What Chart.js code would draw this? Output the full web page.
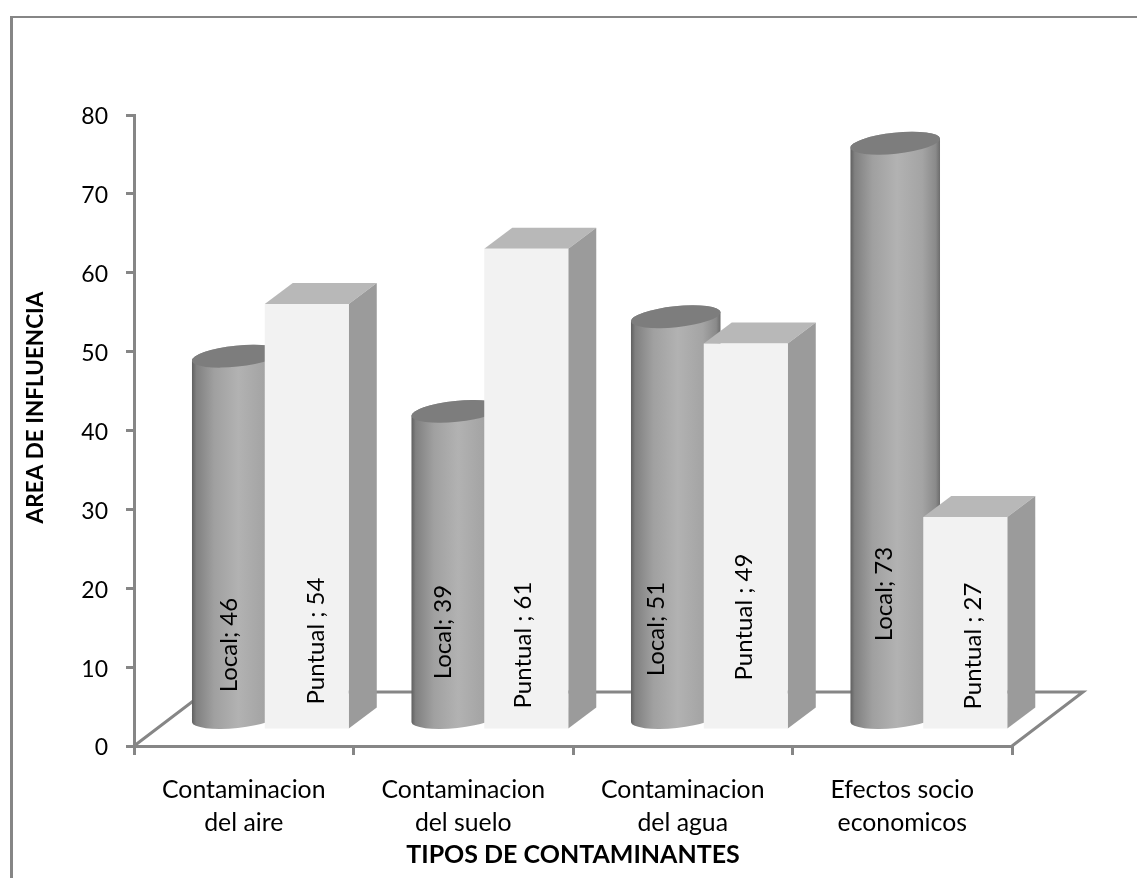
<!DOCTYPE html>
<html lang="es">
<head>
<meta charset="utf-8">
<title>Tipos de contaminantes</title>
<script src="https://cdn.jsdelivr.net/npm/chart.js@4/dist/chart.umd.js"></script>
<style>
    html, body { margin: 0; padding: 0; background: #fff; }
    canvas { display: block; }
</style>
</head>
<body>
<canvas id="chart" width="1137" height="878"></canvas>
<script>
// === Data ===
const categories = [
    ['Contaminacion', 'del aire'],
    ['Contaminacion', 'del suelo'],
    ['Contaminacion', 'del agua'],
    ['Efectos socio', 'economicos'],
];
const localValues = [46, 39, 51, 73];
const puntualValues = [54, 61, 49, 27];
const yTicks = [0, 10, 20, 30, 40, 50, 60, 70, 80];

// Hand-placed data labels in the original, so each one has its own nudge [x, y]
const localNudge = [[-7, -1], [-13, -14], [-19, -17], [-11, -52]];
const puntualNudge = [[10, -5], [-3, -1], [-1, -29], [8, 0]];

// === Look ===
const FONT = 'Lato, "Open Sans", sans-serif';
const AXIS_GRAY = '#868686';
const FLOOR_DX = 71, FLOOR_DY = 54;   // depth of the floor
const BAR_DX = 28, BAR_DY = 21;       // depth of a box
const FRONT_DX = 28, FRONT_DY = 16;   // bars stand in from the front edge of the floor
const CYL_LIFT = 27, CYL_RY = 10.5, CYL_GROW = 3, CYL_TILT = -6 * Math.PI / 180;

function poly(ctx, pts, fill) {
    ctx.beginPath();
    pts.forEach((p, i) => i ? ctx.lineTo(p[0], p[1]) : ctx.moveTo(p[0], p[1]));
    ctx.closePath();
    ctx.fillStyle = fill;
    ctx.fill();
}

function drawCylinder(ctx, bar) {
    const cx = bar.x + FRONT_DX;
    const rx = bar.width / 2 + CYL_GROW;
    const top = bar.y - CYL_LIFT;
    const bottom = bar.base - CYL_LIFT;

    const grad = ctx.createLinearGradient(cx - rx, 0, cx + rx, 0);
    grad.addColorStop(0, '#5e5e5e');
    grad.addColorStop(0.05, '#808080');
    grad.addColorStop(0.25, '#a0a0a0');
    grad.addColorStop(0.52, '#b2b2b2');
    grad.addColorStop(0.8, '#a4a4a4');
    grad.addColorStop(0.95, '#8a8a8a');
    grad.addColorStop(1, '#6a6a6a');

    ctx.beginPath();
    ctx.ellipse(cx, bottom, rx, CYL_RY, CYL_TILT, 0, Math.PI);
    ctx.ellipse(cx, top, rx, CYL_RY, CYL_TILT, Math.PI, 2 * Math.PI);
    ctx.closePath();
    ctx.fillStyle = grad;
    ctx.fill();

    ctx.beginPath();
    ctx.ellipse(cx, top, rx, CYL_RY, CYL_TILT, 0, 2 * Math.PI);
    ctx.fillStyle = '#7d7d7d';
    ctx.fill();
}

function drawBox(ctx, bar) {
    const l = bar.x + FRONT_DX - bar.width / 2;
    const r = l + bar.width;
    const t = bar.y - FRONT_DY;
    const b = bar.base - FRONT_DY;
    poly(ctx, [[l, t], [l + BAR_DX, t - BAR_DY], [r + BAR_DX, t - BAR_DY], [r, t]], '#b8b8b8');
    poly(ctx, [[r, t], [r + BAR_DX, t - BAR_DY], [r + BAR_DX, b - BAR_DY], [r, b]], '#9b9b9b');
    poly(ctx, [[l, t], [r, t], [r, b], [l, b]], '#f2f2f2');
}

function drawRotatedText(ctx, text, x, y, font) {
    ctx.save();
    ctx.translate(x, y);
    ctx.rotate(-Math.PI / 2);
    ctx.font = font;
    ctx.fillStyle = '#000';
    ctx.textAlign = 'center';
    ctx.textBaseline = 'middle';
    ctx.fillText(text, 0, 0);
    ctx.restore();
}

const depthPlugin = {
    id: 'depth',
    beforeDraw(chart) {
        // frame: only the top and left edges are in the picture
        const { ctx, width, height } = chart;
        ctx.save();
        ctx.fillStyle = AXIS_GRAY;
        ctx.fillRect(10, 16, width - 10, 2);
        ctx.fillRect(10, 16, 3, height - 16);
        ctx.restore();
    },
    beforeDatasetsDraw(chart) {
        // floor outline, front edge comes from the x axis
        const { ctx, chartArea: a } = chart;
        ctx.save();
        ctx.strokeStyle = AXIS_GRAY;
        ctx.lineWidth = 3;
        ctx.lineJoin = 'miter';
        ctx.beginPath();
        ctx.moveTo(a.left, a.bottom);
        ctx.lineTo(a.left + FLOOR_DX, a.bottom - FLOOR_DY);
        ctx.lineTo(a.right + FLOOR_DX, a.bottom - FLOOR_DY);
        ctx.lineTo(a.right, a.bottom);
        ctx.stroke();
        ctx.restore();
    },
    afterDatasetsDraw(chart) {
        const { ctx, chartArea: a } = chart;
        const cyl = chart.getDatasetMeta(0).data;
        const box = chart.getDatasetMeta(1).data;
        ctx.save();
        categories.forEach((_, i) => {
            const c = cyl[i].getProps(['x', 'y', 'base', 'width'], true);
            const b = box[i].getProps(['x', 'y', 'base', 'width'], true);
            drawCylinder(ctx, c);
            drawBox(ctx, b);
            const labelY = a.bottom - 100;
            drawRotatedText(ctx, `Local; ${localValues[i]}`,
                c.x + FRONT_DX + localNudge[i][0], labelY + localNudge[i][1], '24px ' + FONT);
            drawRotatedText(ctx, `Puntual ; ${puntualValues[i]}`,
                b.x + FRONT_DX + puntualNudge[i][0], labelY + puntualNudge[i][1], '24px ' + FONT);
        });
        // y title sits above the middle of the axis, scale titles can't do that
        drawRotatedText(ctx, 'AREA DE INFLUENCIA', 36, (a.top + a.bottom) / 2 - 23, 'bold 22.5px ' + FONT);
        ctx.restore();
    },
};

new Chart(document.getElementById('chart'), {
    type: 'bar',
    plugins: [depthPlugin],
    data: {
        labels: categories,
        datasets: [
            { label: 'Local', data: localValues, backgroundColor: 'transparent' },
            { label: 'Puntual', data: puntualValues, backgroundColor: 'transparent' },
        ],
    },
    options: {
        responsive: false,
        animation: false,
        categoryPercentage: 0.638,
        barPercentage: 1.2,
        layout: { padding: { left: 0, right: 125, top: 115, bottom: 0 } },
        plugins: { legend: { display: false }, title: { display: false }, tooltip: { enabled: false } },
        scales: {
            x: {
                afterFit: (scale) => { scale.height = 132; },
                border: { color: AXIS_GRAY, width: 3 },
                grid: { drawOnChartArea: false, color: AXIS_GRAY, lineWidth: 3, tickLength: 9 },
                ticks: {
                    color: '#000', padding: 19, maxRotation: 0, autoSkip: false,
                    font: { family: FONT, size: 24.8, lineHeight: 1.33 },
                },
                title: {
                    display: true, text: 'TIPOS DE CONTAMINANTES', color: '#000',
                    font: { family: FONT, size: 25, weight: 'bold' },
                    padding: { top: 0, bottom: 8 },
                },
            },
            y: {
                min: 0, max: 80,
                afterBuildTicks: (scale) => { scale.ticks = yTicks.map(value => ({ value })); },
                afterFit: (scale) => { scale.width = 134; },
                border: { color: AXIS_GRAY, width: 3 },
                grid: { drawOnChartArea: false, color: AXIS_GRAY, lineWidth: 3, tickLength: 8 },
                ticks: {
                    color: '#000', padding: 18, labelOffset: 2,
                    font: { family: FONT, size: 23 },
                },
            },
        },
    },
});
</script>
</body>
</html>
